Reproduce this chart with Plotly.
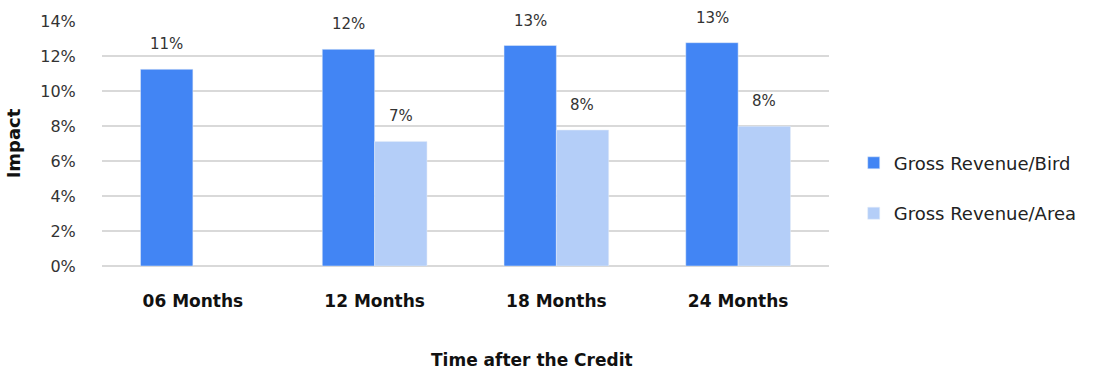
import plotly.graph_objects as go

categories = ["06 Months", "12 Months", "18 Months", "24 Months"]
bird = [11.24, 12.38, 12.6, 12.76]
area = [None, 7.12, 7.77, 7.98]
series_names = ["Gross Revenue/Bird", "Gross Revenue/Area"]
colors = ["#4285F4", "#B4CEF8"]
yticks = [0, 2, 4, 6, 8, 10, 12, 14]
x_title = "Time after the Credit"
y_title = "Impact"

FONT = "DejaVu Sans"

fig = go.Figure()
for name, vals, col in zip(series_names, [bird, area], colors):
    fig.add_trace(go.Bar(
        x=categories, y=vals, name=name, marker_color=col,
        legendgroup=name,
    ))

annotations = []
for vals, shift in [(bird, -26), (area, 26)]:
    for c, v in zip(categories, vals):
        if v is None:
            continue
        annotations.append(dict(
            x=c, y=v, text=f"{round(v)}%", showarrow=False,
            xshift=shift, yshift=25, yanchor="middle",
            font=dict(family=FONT, size=15, color="#333333"),
        ))

annotations.append(dict(
    xref="paper", yref="paper", x=0.591, y=-0.384,
    xanchor="center", yanchor="middle", showarrow=False,
    text=f"<b>{x_title}</b>", font=dict(family=FONT, size=17, color="#111111"),
))

fig.update_layout(
    width=1116, height=372,
    margin=dict(l=102, r=287, t=21, b=106),
    plot_bgcolor="white", paper_bgcolor="white",
    barmode="group", bargap=0.424, bargroupgap=0,
    annotations=annotations,
    font=dict(family=FONT, color="#333333"),
    legend=dict(
        x=1.034, y=0.318, xanchor="left", yanchor="middle",
        font=dict(family=FONT, size=18, color="#222222"),
        traceorder="grouped", tracegroupgap=24,
    ),
    xaxis=dict(
        tickfont=dict(family=FONT, size=17, color="#111111"),
        tickprefix="<b>", ticksuffix="</b>",
        ticks="outside", ticklen=20, tickcolor="rgba(0,0,0,0)",
        showline=False,
    ),
    yaxis=dict(
        title=dict(text=f"<b>{y_title}</b>", font=dict(family=FONT, size=18, color="#111111"), standoff=14),
        range=[0, 14], tickvals=yticks, ticktext=[f"{t}%" for t in yticks],
        tickfont=dict(family=FONT, size=16, color="#333333"),
        ticks="outside", ticklen=22, tickcolor="rgba(0,0,0,0)",
        showgrid=True, gridcolor="#D9D9D9", gridwidth=2,
        zeroline=True, zerolinecolor="#D9D9D9", zerolinewidth=2,
    ),
)

fig.write_html("out.html")
